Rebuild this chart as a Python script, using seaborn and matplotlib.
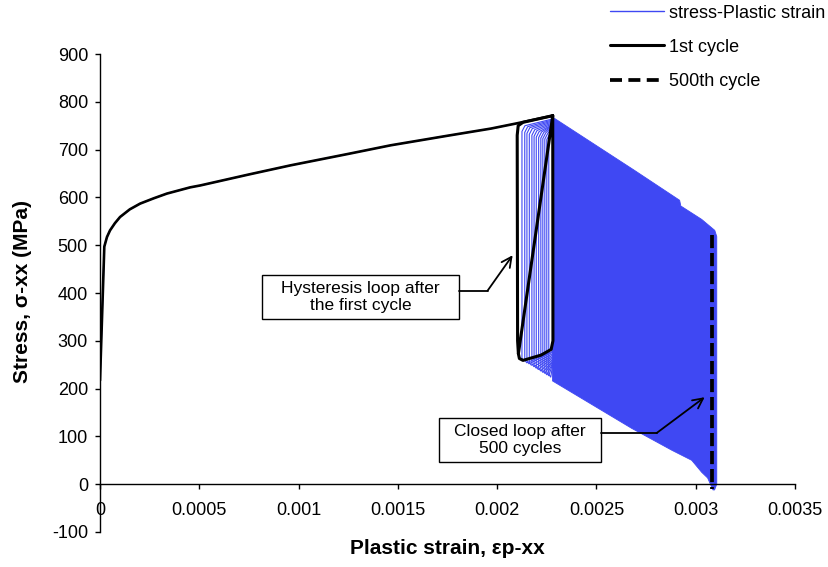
import numpy as np
import pandas as pd
import matplotlib
matplotlib.use("Agg")
import matplotlib.pyplot as plt
import seaborn as sns
from matplotlib.lines import Line2D
from matplotlib.patches import Rectangle

# ---------------- data ----------------
# monotonic loading curve (stress vs plastic strain)
mono_strain = [0.0, 0.0000217, 0.000035, 0.0000505, 0.000075, 0.000101, 0.00015,
               0.000202, 0.00027, 0.000337, 0.000454, 0.000505, 0.00075,
               0.000959, 0.00125, 0.001464, 0.00175, 0.001969, 0.0021, 0.00228]
mono_stress = [217, 497, 517, 531, 546, 559, 575,
               587, 598, 608, 621, 625, 648,
               667, 691, 709, 729, 744, 755, 771]

# first hysteresis cycle (black)
first_strain = [0.00228, 0.002107, 0.002103, 0.002101, 0.002106, 0.00213, 0.00228,
                0.002281, 0.002272, 0.002221, 0.00213, 0.002112, 0.002107]
first_stress = [771, 273, 300, 730, 750, 757, 771,
                300, 282, 270, 259, 263, 273]

# outline of the dense band of ratcheting cycles (blue)
band_strain = [0.002279, 0.00269, 0.002919, 0.002925, 0.00303, 0.003096, 0.003106,
               0.003106, 0.003095, 0.003087, 0.00306, 0.00303, 0.00298, 0.00288,
               0.002677, 0.002279]
band_stress = [768, 657, 594, 582, 554, 531, 518,
               0, -12, -12, 13, 25, 50, 71,
               117, 216]

# early cycles visible inside the first loop (left edge, top, bottom)
stripe_left = [0.002125, 0.002139, 0.002150, 0.002162, 0.002175, 0.002186, 0.002197,
               0.002209, 0.002220, 0.002230, 0.002240, 0.002250, 0.002260]
stripe_top = [750, 748, 746, 744, 742, 740, 738, 737, 736, 735, 734, 733, 732]
stripe_bottom = [258, 254, 252, 249, 246, 243, 240, 237, 234, 232, 229, 227, 224]
loop_right = 0.002279

# 500th cycle (closed loop)
last_strain = [0.00308, 0.00308]
last_stress = [521, -10]

x_ticks = [0, 0.0005, 0.001, 0.0015, 0.002, 0.0025, 0.003, 0.0035]
x_ticklabels = ["0", "0.0005", "0.001", "0.0015", "0.002", "0.0025", "0.003", "0.0035"]
y_ticks = [-100, 0, 100, 200, 300, 400, 500, 600, 700, 800, 900]
y_ticklabels = ["-100", "0", "100", "200", "300", "400", "500", "600", "700", "800", "900"]

legend_labels = ["stress-Plastic strain", "1st cycle", "500th cycle"]

BLUE = "#3F48F3"

# ---------------- figure ----------------
sns.set_theme(style="white")
plt.rcParams["font.family"] = ["Liberation Sans", "DejaVu Sans"]
plt.rcParams["text.color"] = "black"
plt.rcParams["axes.labelcolor"] = "black"
plt.rcParams["axes.unicode_minus"] = False

fig = plt.figure(figsize=(8.29, 5.67), dpi=100)
ax = fig.add_axes([100 / 829, 35 / 567, 695 / 829, 478 / 567])

# blue band of ratcheting cycles
ax.fill(band_strain, band_stress, color=BLUE, lw=0.6, ec=BLUE, zorder=1)

# individual early cycles
rows = []
for i, (xl, top, bot) in enumerate(zip(stripe_left, stripe_top, stripe_bottom)):
    pts = [(loop_right, top + 14), (xl + 0.000015, top), (xl, top - 12),
           (xl, bot + 6), (xl + 0.00001, bot), (loop_right, bot + 24)]
    for k, (px, py) in enumerate(pts):
        rows.append({"loop": i, "order": k, "strain": px, "stress": py})
df_stripes = pd.DataFrame(rows)
sns.lineplot(data=df_stripes, x="strain", y="stress", units="loop", estimator=None,
             sort=False, color=BLUE, lw=0.8, ax=ax, zorder=2)

# monotonic curve in blue (underneath) and black
sns.lineplot(x=mono_strain, y=mono_stress, sort=False, estimator=None,
             color=BLUE, lw=1.0, ax=ax, zorder=2)
sns.lineplot(x=mono_strain, y=mono_stress, sort=False, estimator=None,
             color="black", lw=1.9, ax=ax, zorder=4)
# first cycle
sns.lineplot(x=first_strain, y=first_stress, sort=False, estimator=None,
             color="black", lw=2.2, ax=ax, zorder=4)
# 500th cycle
l500 = ax.plot(last_strain, last_stress, color="black", lw=2.7, zorder=5)[0]
l500.set_dashes((3.5, 1.3))

# axes styling
ax.set_xlim(0, 0.0035)
ax.set_ylim(-100, 900)
ax.set_xticks(x_ticks)
ax.set_xticklabels(x_ticklabels)
ax.set_yticks(y_ticks)
ax.set_yticklabels(y_ticklabels)
for s in ["top", "right"]:
    ax.spines[s].set_visible(False)
ax.spines["bottom"].set_position(("data", 0))
for s in ["left", "bottom"]:
    ax.spines[s].set_color("black")
    ax.spines[s].set_linewidth(1.0)
ax.tick_params(axis="both", direction="out", length=3.6, width=1.0, color="black",
               labelsize=13, labelcolor="black")
ax.tick_params(axis="x", pad=9.0, bottom=True)
ax.tick_params(axis="y", pad=5, left=True)
ax.grid(False)
ax.set_facecolor("white")

ax.set_xlabel("Plastic strain, εp-xx", fontsize=15, fontweight="bold", va="center")
ax.set_ylabel("Stress, σ-xx (MPa)", fontsize=15, fontweight="bold", va="center")
ax.xaxis.set_label_coords(0.5, -0.0335)
ax.yaxis.set_label_coords(-0.112, 0.504)

# annotations
def box_note(x0, x1, y0, y1, text, start, elbow, tip):
    ax.add_patch(Rectangle((x0, y0), x1 - x0, y1 - y0, fill=True, fc="white",
                           ec="black", lw=1.0, zorder=6))
    ax.text((x0 + x1) / 2, (y0 + y1) / 2, text, ha="center", va="center",
            fontsize=12.5, color="black", zorder=7, linespacing=1.15)
    ax.plot([start[0], elbow[0]], [start[1], elbow[1]], color="black", lw=1.3, zorder=6)
    ax.annotate("", xy=tip, xytext=elbow,
                arrowprops=dict(arrowstyle="->", color="black", lw=1.3,
                                shrinkA=0, shrinkB=0, mutation_scale=18), zorder=6)

box_note(0.000816, 0.001809, 344.6, 438.7, "Hysteresis loop after\nthe first cycle",
         (0.001809, 405), (0.001952, 405), (0.002078, 479))
box_note(0.001708, 0.002524, 46.7, 138.7, "Closed loop after\n500 cycles",
         (0.002524, 107), (0.002803, 107), (0.003045, 182))

# legend
handles = [Line2D([], [], color=BLUE, lw=1.0),
           Line2D([], [], color="black", lw=2.2),
           Line2D([], [], color="black", lw=2.7, dashes=(3.2, 1.7))]
fig.legend(handles, legend_labels, loc="upper left", bbox_to_anchor=(608 / 829, 0.995),
           frameon=False, fontsize=13, handlelength=3.0, handletextpad=0.3,
           labelspacing=0.95, borderpad=0.1, borderaxespad=0)

fig.savefig("out.png", dpi=100)
